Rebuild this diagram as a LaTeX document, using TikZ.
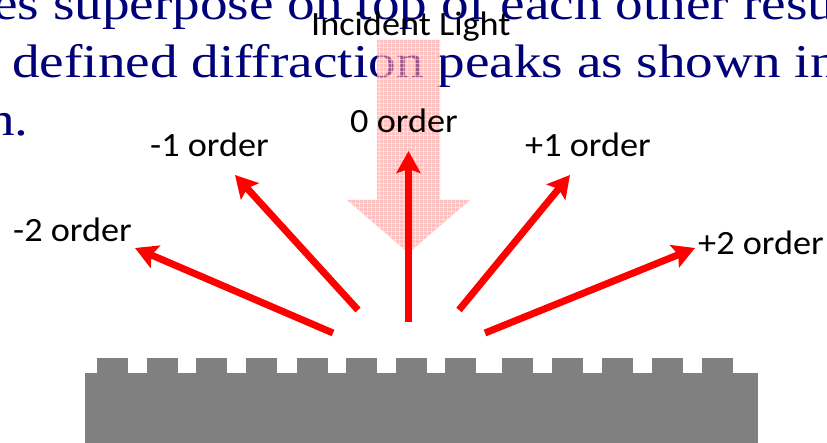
\documentclass[tikz,border=0pt]{standalone}
\usepackage{fontspec}
\setmainfont{Liberation Serif}
\newfontfamily\labelfont{Carlito}
\usetikzlibrary{arrows.meta}
\definecolor{slideblue}{RGB}{0,0,120}
\definecolor{beampink}{RGB}{255,150,150}
\definecolor{gratinggray}{RGB}{128,128,128}
\newcommand\bodystretch[1]{\scalebox{1.175}[1]{#1}}
\newcommand\labelstretch[1]{\scalebox{1.066}[1]{#1}}

\begin{document}
\begin{tikzpicture}[x=1pt,y=-1pt,
  bodytext/.style={anchor=base west, inner sep=0pt, text=slideblue,
                   font=\fontsize{47}{56}\selectfont},
  orderlabel/.style={anchor=base west, inner sep=0pt,
                     font=\labelfont\fontsize{34}{40}\selectfont},
  ray/.style={red, line width=7pt,
              -{Stealth[length=22pt,width=24pt,inset=4pt]}},
  tooth/.style={fill=gratinggray},
  beamgrid/.style={white, line width=1pt, opacity=0.45},
]
\useasboundingbox (0,0) rectangle (827,443);
\clip (0,0) rectangle (827,443);

% running text of the slide behind the sketch
\node[bodytext] (lineA) at (-7,20)  {\bodystretch{es superpose on top of each other resu}};
\node[bodytext] (lineB) at (12,78)  {\bodystretch{defined diffraction peaks as shown in}};
\node[bodytext] (lineC) at (-13,136) {\bodystretch{n.}};

% incident beam (broad block arrow with a fine light grid)
\def\beamoutline{(377,40) -- (440,40) -- (440,200) -- (470,200) -- (408.5,253)
  -- (347,200) -- (377,200) -- cycle}
\path[fill=beampink, fill opacity=0.6] \beamoutline;
\begin{scope}
  \clip \beamoutline;
  \foreach \gx in {347,351,...,471} \draw[beamgrid] (\gx,40) -- (\gx,253);
  \foreach \gy in {40,44,...,254} \draw[beamgrid] (347,\gy) -- (471,\gy);
\end{scope}
\node[orderlabel] (inc) at (311,36) {\labelstretch{Incident Light}};

% diffracted orders
\coordinate (m2s) at (333,333);   \coordinate (m2e) at (135,248);
\coordinate (m1s) at (358,310);   \coordinate (m1e) at (235,175);
\coordinate (z0s) at (408.5,322); \coordinate (z0e) at (408.5,151);
\coordinate (p1s) at (459,310);   \coordinate (p1e) at (570,175);
\coordinate (p2s) at (485,333);   \coordinate (p2e) at (695,248);
\draw[ray] (m2s) -- (m2e);
\draw[ray] (m1s) -- (m1e);
\draw[ray] (z0s) -- (z0e);
\draw[ray] (p1s) -- (p1e);
\draw[ray] (p2s) -- (p2e);

\node[orderlabel] (ord0)  at (350,133) {\labelstretch{0 order}};
\node[orderlabel] (ordm1) at (150,157) {\labelstretch{-1 order}};
\node[orderlabel] (ordp1) at (525,157) {\labelstretch{+1 order}};
\node[orderlabel] (ordm2) at (13,242)  {\labelstretch{-2 order}};
\node[orderlabel] (ordp2) at (698,255) {\labelstretch{+2 order}};

% grating: substrate with rectangular teeth
\fill[gratinggray] (84.7,373.3) rectangle (758.3,443);
\foreach \tx in {97,146.5,196,246,296.5,345.5,395.5,445,502,552,602,651.5,701.5}
  \fill[tooth] (\tx,358.3) rectangle ++(31,15.5);
\end{tikzpicture}
\end{document}
